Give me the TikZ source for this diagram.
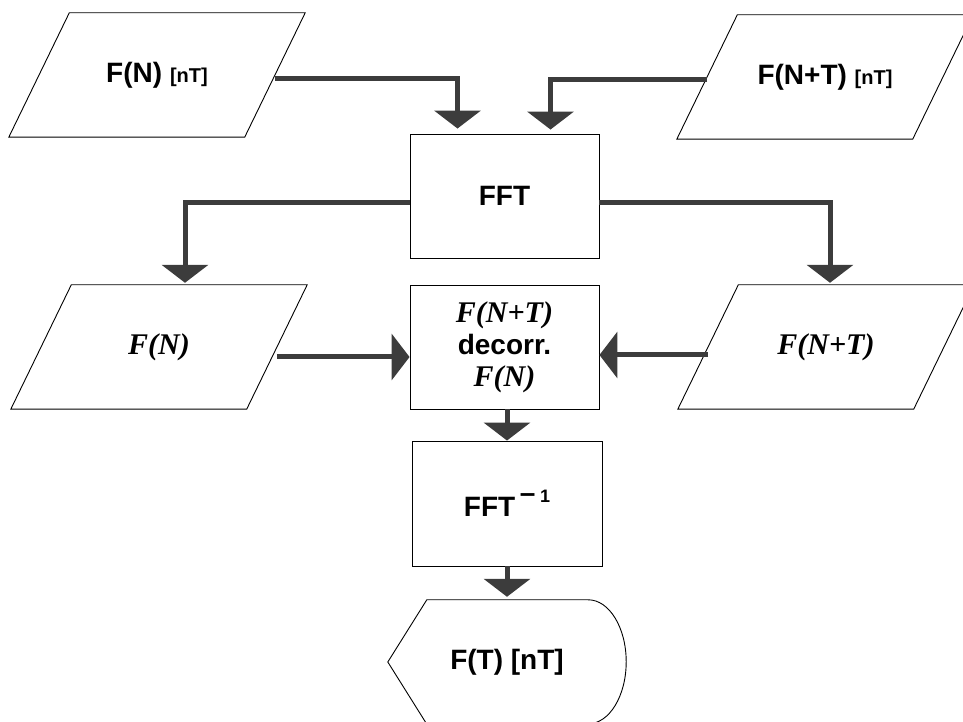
\documentclass[tikz,border=0pt]{standalone}
\usepackage{fontspec}
\setmainfont{Liberation Sans}
\newfontfamily\timesfont{Liberation Serif}
\usetikzlibrary{arrows.meta, calc}
\definecolor{arrowgray}{HTML}{3C3C3C}
\tikzset{
  label/.style = {font=\fontsize{28}{32}\selectfont\bfseries, align=center},
  border/.style = {draw, line width=0.9pt},
  io/.style = {rectangle, minimum width=235.5pt, minimum height=124pt, label},
  proc/.style = {rectangle, border, minimum width=189pt, minimum height=124pt, label},
  flow/.style = {draw=arrowgray, line width=5pt, -{Triangle[width=46pt, length=18pt]}},
}
\newcommand{\unitnT}{{\fontsize{20}{24}\selectfont [nT]}}
\newcommand{\serifvar}[1]{{\fontsize{30}{32}\selectfont\timesfont\bfseries\itshape #1}}

\begin{document}
\begin{tikzpicture}[x=1pt, y=1pt]
    \def\slant{30.25pt}
    \useasboundingbox (0,0) rectangle (963,722);

    % inputs
    \node (p1) [io] at (157,647) {F(N) \unitnT};
    \node (p2) [io] at (825,645) {F(N+T) \unitnT};
    \node (fft) [proc] at (504.5,526) {FFT};

    % spectra
    \node (ml) [io] at (159,375) {\serifvar{F(N)}};
    \node (mid) [proc] at (504.5,375) {\serifvar{F(N+T)}\\decorr.\\\serifvar{F(N)}};
    \node (mr) [io] at (826,375) {\serifvar{F(N+T)}};

    % parallelograms round the data nodes
    \foreach \n in {p1, p2, ml, mr}
        \draw[border] ([xshift=\slant]\n.north west) -- ([xshift=\slant]\n.north east)
            -- ([xshift=-\slant]\n.south east) -- ([xshift=-\slant]\n.south west) -- cycle;

    % inverse and output
    \node (ifft) [proc, minimum width=190pt, minimum height=125pt] at (507,218.5)
        {FFT\,\raisebox{14pt}{{\fontsize{28}{28}\selectfont –}\,{\fontsize{18}{18}\selectfont 1}}};
    \node (out) [label, minimum width=238pt, minimum height=124pt] at (507,60) {F(T) [nT]};
    \draw[border] (out.west) -- ([xshift=39pt]out.north west) -- ([xshift=-38pt]out.north east)
        arc[start angle=90, end angle=-90, x radius=38pt, y radius=62pt]
        -- ([xshift=39pt]out.south west) -- cycle;

    \draw[flow, shorten >=5pt] ([yshift=-4pt]p1.east) -| ([xshift=-47pt]fft.north);
    \draw[flow, shorten >=4pt] ([yshift=-3pt]p2.west) -| ([xshift=46pt]fft.north);
    \draw[flow, shorten >=2pt] ([yshift=-7pt]fft.west) -| ([xshift=26pt]ml.north);
    \draw[flow, shorten >=2pt] ([yshift=-7pt]fft.east) -| ([xshift=4pt]mr.north);
    \draw[flow] ([yshift=-10pt]ml.east) -- ([yshift=-10pt]mid.west);
    \draw[flow] ([yshift=-8pt]mr.west) -- ([yshift=-8pt]mid.east);
    \draw[flow] (ifft.north |- mid.south) -- (ifft.north);
    \draw[flow, shorten >=3pt] (ifft.south) -- (out.north);
\end{tikzpicture}
\end{document}
